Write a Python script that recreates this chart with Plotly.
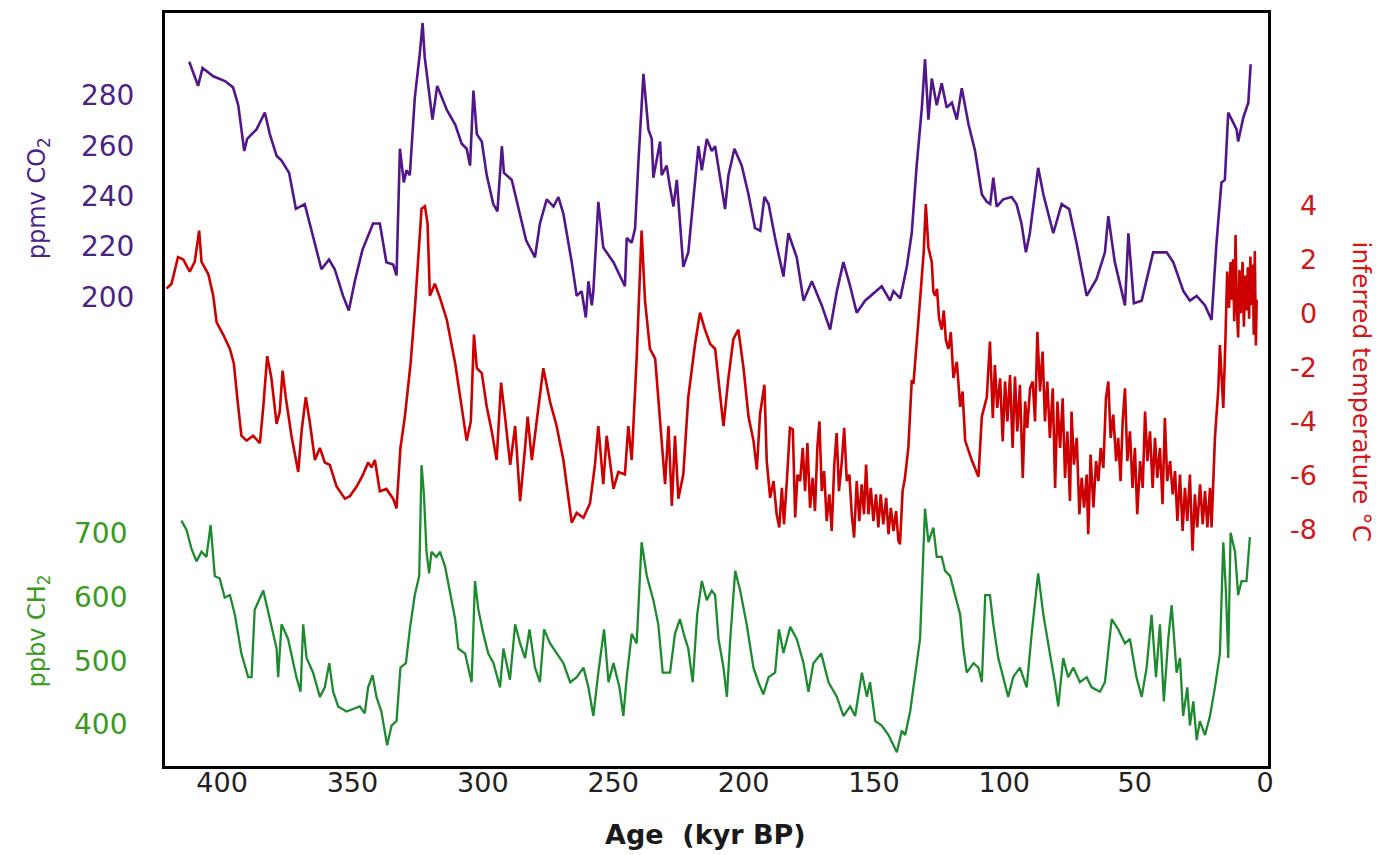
import plotly.graph_objects as go

# ---------------- data ----------------
# CO2 (ppmv) vs age (kyr BP)
co2_age = [
    412.6, 409.2, 407.5, 403.4, 398.9, 395.8, 393.8, 391.5, 390.4, 386.8,
    383.6, 381.7, 379.1, 377.2, 374.3, 371.7, 368.3, 365.1, 361.9, 359.0,
    356.8, 353.6, 351.4, 349.1, 346.2, 342.1, 339.5, 337.0, 334.4, 333.1,
    331.8, 330.3, 329.3, 328.0, 326.1, 324.2, 323.1, 322.3, 320.7, 319.3,
    317.5,
    316.4, 313.8, 310.6, 308.1, 306.2, 304.9, 303.6, 302.3, 300.4, 298.5,
    296.0, 294.4, 292.7, 291.9, 288.9, 285.7, 283.4, 280.0, 278.1, 275.5,
    272.9, 271.0, 269.1, 265.9, 264.0, 262.1, 260.5, 259.5, 258.2, 257.6,
    255.7, 253.8, 249.9, 245.5, 244.8, 242.9, 241.6, 240.3, 238.4, 236.5,
    235.2, 234.6, 233.3, 232.0, 231.4, 229.5, 228.2, 226.9, 225.6, 224.4,
    223.1, 221.2, 219.2, 217.3, 216.0, 214.1, 212.2,
    210.9, 209.0, 207.1, 205.8, 203.5, 200.7, 198.1, 195.6, 193.6, 192.0,
    190.4, 187.9, 184.7, 182.8, 179.6, 177.0, 173.8, 170.0, 166.8, 164.2,
    161.7, 159.1, 156.6, 153.4, 147.0, 143.8, 142.5, 139.9, 137.4, 135.5,
    133.6, 131.6, 130.4, 129.1, 127.8, 125.9, 124.0, 122.1, 120.1, 118.2,
    116.3, 113.7, 111.2, 108.6, 106.7, 105.4,
    104.2, 102.9, 100.4, 97.2, 95.3, 93.4, 91.7, 90.2, 87.0, 85.0,
    81.2, 78.0, 75.1, 72.3, 68.4, 64.6, 61.4, 60.1, 57.6, 53.7,
    52.4, 50.3, 47.3, 42.9, 37.7, 35.2, 31.3, 28.8, 26.2, 23.0,
    20.5, 18.6, 16.7, 15.4, 14.1, 10.9, 10.3, 8.3, 6.4, 5.5,
]
co2_ppmv = [
    293.5, 283.9, 291.0, 287.7, 285.8, 283.3, 276.2, 258.0, 262.8, 266.6,
    273.3, 264.7, 256.1, 254.2, 249.3, 235.0, 236.9, 224.4, 211.0, 214.8,
    211.0, 200.4, 194.6, 206.2, 218.6, 229.2, 229.2, 213.8, 212.9, 208.5,
    258.9, 245.5, 250.3, 248.4, 279.1, 296.4, 308.9, 295.4, 281.0, 270.5,
    283.9,
    281.0, 274.3, 268.5, 260.9, 258.9, 252.2, 282.0, 264.7, 261.8, 248.4,
    236.9, 234.0, 259.9, 249.3, 246.5, 233.0, 222.5, 215.7, 229.2, 238.8,
    235.9, 239.7, 233.0, 213.8, 200.4, 202.3, 191.8, 206.2, 196.6, 202.3,
    237.8, 219.6, 213.8, 204.2, 223.4, 221.5, 227.3, 254.2, 288.7, 266.6,
    262.8, 247.4, 254.2, 261.8, 248.4, 252.2, 243.6, 235.9, 246.5, 229.2,
    211.9, 217.7, 240.7, 259.9, 250.3, 262.8, 258.0,
    259.9, 247.4, 234.9, 248.4, 258.9, 252.2, 240.7, 227.3, 226.3, 239.7,
    236.9, 223.4, 208.1, 225.3, 215.7, 198.5, 206.2, 196.6, 187.0, 202.3,
    213.8, 204.2, 193.7, 198.5, 204.2, 198.5, 202.3, 199.4, 211.9, 225.3,
    252.2, 275.3, 294.5, 270.5, 286.8, 276.2, 284.9, 275.3, 277.2, 270.5,
    283.0, 268.5, 258.0, 240.7, 237.8, 236.9,
    247.4, 235.9, 238.8, 239.7, 236.9, 229.2, 217.7, 225.3, 251.3, 240.7,
    225.3, 236.9, 234.9, 221.5, 200.4, 207.1, 217.7, 232.1, 213.8, 196.6,
    225.3, 197.5, 198.5, 217.7, 217.7, 213.8, 202.3, 198.5, 200.4, 196.6,
    190.8, 221.5, 245.5, 246.5, 273.3, 266.6, 261.8, 271.4, 277.2, 292.5,
]

# Inferred temperature (°C), in four age segments
temp_age_a = [
    421.3, 419.4, 416.9, 414.9, 412.4, 410.5, 408.8, 407.9, 405.3, 403.4,
    402.1, 399.6, 397.0, 395.5, 394.2, 392.6, 390.6, 388.1, 385.5, 384.2,
    382.7, 381.1, 379.1, 377.9, 376.8, 375.6, 373.4, 370.8, 369.5, 367.9,
    366.4, 364.4, 362.5, 360.6, 358.7, 356.1, 352.9, 351.0, 348.4, 345.9,
    344.0, 342.7, 341.4, 339.5, 337.0, 334.4, 333.1, 331.6, 329.9, 327.7,
    326.1, 324.8, 323.5, 322.2, 321.2, 320.3, 318.4,
]
temp_c_a = [
    0.91, 1.09, 2.08, 1.99, 1.54, 1.90, 3.06, 1.90, 1.45, 0.65,
    -0.34, -0.79, -1.32, -1.86, -3.11, -4.54, -4.72, -4.54, -4.81, -3.47,
    -1.59, -2.40, -4.10, -3.65, -2.13, -3.11, -4.54, -5.88, -4.36, -3.11,
    -4.01, -5.44, -4.99, -5.53, -5.62, -6.42, -6.87, -6.78, -6.42, -5.97,
    -5.53, -5.71, -5.44, -6.60, -6.51, -6.87, -7.23, -4.99, -3.83, -1.86,
    0.11, 1.90, 3.87, 3.96, 3.33, 0.65, 1.09,
]
temp_age_b = [
    316.4, 313.8, 310.6, 308.1, 306.2, 304.6, 303.4, 302.3, 300.4, 298.5,
    296.6, 294.7, 293.0, 291.5, 289.5, 287.6, 285.7, 283.8, 282.8, 281.2,
    279.1, 276.8, 274.2, 271.7, 269.1, 265.9, 264.0, 261.4, 258.9, 257.0,
    255.7, 253.8, 252.5, 249.9, 248.0, 245.5, 244.2, 242.9, 241.0, 239.1,
    237.8, 235.9, 233.9, 232.0, 230.1, 228.8, 227.5, 226.3, 225.0, 223.1,
    221.2, 218.6, 216.7, 214.8, 212.8,
]
temp_c_b = [
    0.56, -0.25, -1.86, -3.47, -4.72, -4.01, -0.79, -2.04, -2.22, -3.47,
    -4.36, -5.44, -2.57, -3.83, -5.62, -4.18, -6.96, -4.99, -3.83, -5.44,
    -3.83, -2.04, -3.29, -4.18, -5.44, -7.76, -7.40, -7.58, -7.05, -5.62,
    -4.18, -6.33, -4.54, -6.51, -5.88, -5.97, -4.18, -5.44, -1.68, 3.06,
    0.47, -1.32, -1.68, -4.01, -6.33, -4.18, -7.14, -4.54, -6.87, -5.97,
    -3.11, -1.14, 0.02, -0.61, -1.14,
]
temp_age_c = [
    210.9, 209.0, 207.7, 205.8, 203.9, 202.0, 200.0, 198.1, 196.2, 194.9,
    193.7, 192.0, 191.1, 189.8, 188.5, 187.3, 186.3, 185.3, 184.5, 183.4,
    182.2, 181.1, 180.2, 179.3, 178.3, 177.3, 176.4, 175.5, 174.5, 173.5,
    172.6, 171.7, 170.9, 170.0, 169.1, 168.1, 167.1, 166.2, 165.2, 164.3,
    163.4, 162.3, 161.4, 160.4, 159.4, 158.5, 157.6, 156.6, 155.6, 154.7,
    153.8, 153.0, 152.1, 151.2, 150.2, 149.2, 148.3, 147.4, 146.4, 145.3,
    144.4, 143.5, 142.5, 141.5, 140.6, 140.0, 139.0, 138.1, 136.8, 135.5,
    134.8, 132.9, 130.9, 130.1, 129.1, 127.8, 127.2, 126.5, 125.8, 125.0,
    124.0, 123.2, 122.4, 121.4, 120.5, 119.5, 118.2, 116.9, 116.0, 115.0,
    112.5, 109.9, 108.6, 106.7,
]
temp_c_c = [
    -1.32, -3.11, -4.18, -2.40, -0.96, -0.61, -2.04, -3.83, -4.72, -5.79,
    -3.76, -2.65, -5.48, -6.84, -6.22, -7.45, -7.94, -6.47, -7.82, -6.22,
    -4.25, -4.31, -7.57, -5.98, -6.22, -4.99, -6.59, -4.81, -7.21, -6.10,
    -7.33, -4.99, -4.01, -6.59, -5.85, -7.70, -6.71, -8.07, -5.61, -4.44,
    -6.59, -5.48, -4.25, -6.22, -5.98, -7.45, -8.31, -6.22, -7.70, -6.34,
    -7.45, -5.61, -7.45, -6.47, -7.70, -6.71, -7.94, -6.71, -7.82, -6.84,
    -8.19, -7.21, -8.07, -7.33, -8.44, -8.56, -6.59, -6.10, -4.99, -2.53,
    -2.57, -0.25, 2.26, 4.04, 2.43, 1.90, 0.80, 0.65, 0.90, -0.20,
    -0.61, 0.10, -1.00, -1.32, -0.70, -2.40, -1.80, -3.47, -2.90, -4.72,
    -5.44, -6.06, -3.83, -3.11,
]
temp_age_d = [
    105.5, 104.4, 103.6, 102.7, 101.6, 100.6, 99.7, 98.8, 97.8, 96.8,
    95.9, 95.0, 94.0, 92.9, 92.0, 91.2, 90.1, 89.1, 88.2, 87.3,
    86.3, 85.3, 84.4, 83.5, 82.5, 81.4, 80.5, 79.6, 78.6, 77.6,
    76.7, 75.8, 74.8, 74.2, 73.3, 72.2, 71.2, 70.3, 69.4, 68.4,
    67.8, 66.9, 65.8, 64.8, 63.9, 63.0, 62.0, 61.0, 60.1, 59.2,
    58.2, 57.1, 56.3, 55.4, 54.6, 53.7, 52.8, 51.8, 50.8, 49.9,
    49.0, 47.9, 46.9, 46.0, 45.1, 44.1, 43.1, 42.2, 41.3, 40.3,
    39.3, 38.4, 37.5, 36.4, 35.4, 34.5, 33.6, 32.6, 31.6, 30.7,
    29.8, 28.8, 27.8, 26.9, 26.0, 24.9, 23.9, 23.0, 22.1, 21.1,
    20.5, 19.2, 17.9, 17.3, 16.0, 15.2, 14.5,
    13.8, 13.2, 12.8, 12.2, 11.8, 11.3, 10.8, 10.3, 9.8, 9.3,
    8.6, 8.1, 7.6, 7.1, 6.6, 6.1, 5.6, 5.2, 4.7, 4.3,
    3.9, 3.5, 3.2,
]
temp_c_d = [
    -1.05, -3.88, -1.92, -3.51, -2.41, -4.75, -2.53, -4.01, -2.29, -4.99,
    -2.35, -4.38, -2.65, -6.10, -3.27, -4.25, -2.78, -2.53, -4.01, -0.69,
    -2.90, -1.42, -4.01, -2.53, -4.62, -2.78, -6.47, -3.27, -4.99, -3.15,
    -6.10, -4.38, -6.96, -3.64, -5.61, -4.62, -7.45, -6.10, -7.20, -5.98,
    -8.19, -5.24, -7.20, -5.48, -6.22, -4.99, -5.73, -3.15, -2.53, -4.62,
    -3.76, -5.48, -4.62, -6.22, -4.01, -2.78, -5.48, -4.38, -6.47, -4.99,
    -7.45, -5.48, -6.47, -3.64, -5.48, -4.38, -6.47, -4.62, -6.10, -4.99,
    -7.08, -3.88, -6.22, -5.48, -6.71, -5.85, -7.70, -5.98, -8.07, -6.47,
    -7.70, -5.98, -8.80, -6.71, -7.94, -6.34, -7.82, -6.59, -7.94, -6.47,
    -7.94, -4.62, -2.78, -1.18, -3.51, -1.05, 1.54,
    0.20, 1.90, 0.50, 2.00, -0.30, 2.90, 0.20, -0.90, 1.60, 0.00,
    1.90, -0.50, 1.40, 0.10, 1.70, -0.20, 2.10, 0.30, 1.80, -0.80,
    2.30, -1.20, 0.50,
]

# CH4 (ppbv) vs age (kyr BP)
ch4_age = [
    415.6, 413.6, 411.7, 409.8, 407.9, 406.0, 404.4, 402.8, 400.9, 399.0,
    397.0, 395.1, 392.6, 390.0, 388.7, 387.5, 384.2, 381.7, 379.1, 378.5,
    377.2, 374.7, 373.4, 371.5, 369.9, 368.9, 367.6, 365.1, 362.5, 360.6,
    358.9, 357.4, 355.5, 352.3, 349.7, 347.2, 345.3, 344.0, 342.3, 340.8,
    338.9, 336.7, 335.0, 333.1, 331.6, 329.5, 328.0, 326.1, 324.4, 323.5,
    322.6, 321.6, 320.6, 319.7, 317.8,
    316.4, 314.5, 312.6, 310.6, 309.4, 306.8, 304.3, 303.0, 301.7, 299.8,
    297.9, 295.9, 293.4, 292.1, 289.6, 287.6, 285.7, 283.8, 282.1, 280.0,
    278.1, 276.5, 274.2, 271.7, 269.1, 266.5, 264.0, 261.4, 259.5, 257.6,
    255.7, 253.5, 251.8, 249.9, 247.6, 246.1, 244.8, 242.9, 241.0, 239.1,
    237.1, 234.6, 232.7, 231.0, 228.2, 226.3, 224.4, 222.4, 221.2, 219.5,
    217.8, 216.0, 214.1, 212.2,
    210.9, 209.6, 207.7, 206.4, 205.1, 203.2, 201.3, 198.8, 196.2, 194.3,
    192.4, 190.4, 187.9, 186.4, 184.7, 182.1, 179.6, 177.0, 175.1, 173.2,
    170.2, 167.4, 164.2, 161.7, 159.1, 157.2, 154.6, 152.7, 151.5, 149.5,
    147.0, 144.4, 141.2, 139.3, 138.0, 136.1, 134.2, 132.3, 130.4, 129.1,
    127.2, 125.9, 124.0, 122.7, 120.8, 118.9, 116.9, 115.7, 114.4, 111.8,
    109.9, 108.6, 107.3,
    105.5, 104.2, 102.3, 100.4, 98.5, 96.6, 94.0, 91.4, 89.5, 87.0,
    85.0, 82.5, 80.6, 79.3, 77.4, 75.5, 73.5, 71.0, 68.4, 66.5,
    63.3, 61.4, 58.8, 56.3, 53.7, 51.8, 49.3, 47.3, 45.4, 43.5,
    41.8, 40.3, 38.8, 37.1, 35.8, 33.9, 32.6, 31.4, 29.8, 28.8,
    27.5, 26.2, 25.0, 23.0, 21.1, 19.2, 17.3, 16.0, 15.0, 14.1,
    13.2, 11.5, 10.3, 9.0, 7.1, 5.8,
]
ch4_ppbv = [
    721, 706, 676, 657, 672, 664, 714, 634, 630, 600,
    604, 573, 512, 475, 475, 581, 611, 566, 520, 475,
    558, 535, 512, 475, 452, 558, 505, 482, 444, 459,
    497, 452, 429, 421, 425, 429, 418, 459, 478, 444,
    421, 368, 399, 406, 490, 497, 550, 604, 634, 808,
    763, 672, 638, 672, 664,
    672, 649, 611, 566, 520, 512, 467, 626, 581, 543,
    512, 497, 459, 520, 471, 558, 528, 505, 550, 490,
    467, 550, 528, 512, 497, 467, 475, 490, 459, 414,
    482, 550, 467, 497, 459, 414, 475, 543, 528, 687,
    634, 596, 558, 482, 482, 543, 566, 535, 520, 467,
    573, 626, 596, 611,
    604, 535, 490, 444, 535, 642, 611, 558, 490, 467,
    448, 475, 482, 550, 513, 554, 535, 497, 452, 497,
    512, 467, 444, 414, 429, 414, 482, 444, 467, 406,
    399, 384, 357, 391, 384, 421, 475, 535, 740, 687,
    710, 664, 664, 642, 634, 604, 573, 520, 482, 497,
    490, 467, 604,
    604, 558, 505, 475, 444, 475, 490, 459, 543, 638,
    573, 512, 467, 429, 505, 475, 490, 467, 475, 459,
    452, 467, 566, 550, 528, 535, 475, 444, 490, 573,
    475, 558, 437, 535, 588, 482, 505, 414, 459, 399,
    437, 376, 406, 384, 414, 459, 512, 687, 611, 505,
    702, 672, 604, 626, 626, 695,
]

x_ticks = [400, 350, 300, 250, 200, 150, 100, 50, 0]
co2_ticks = [200, 220, 240, 260, 280]
temp_ticks = [4, 2, 0, -2, -4, -6, -8]
ch4_ticks = [400, 500, 600, 700]

temp_age = temp_age_a + temp_age_b + temp_age_c + temp_age_d
temp_c = temp_c_a + temp_c_b + temp_c_c + temp_c_d

assert len(co2_age) == len(co2_ppmv)
assert len(temp_age_a) == len(temp_c_a)
assert len(temp_age_b) == len(temp_c_b)
assert len(temp_age_c) == len(temp_c_c)
assert len(temp_age_d) == len(temp_c_d)
assert len(ch4_age) == len(ch4_ppbv)

# ---------------- styling ----------------
PURPLE = "#52168a"
PURPLE_TXT = "#4b2385"
RED = "#cc0000"
RED_TXT = "#d01818"
GREEN = "#1d8a30"
GREEN_TXT = "#3a9a1e"
FONT = "DejaVu Sans"

# the page body has an 8px margin; figure sized so that it fits the window
OFF = 8
W, H = 1378, 847
L, R, T, B = 157, 118, 2, 89
PW, PH = W - L - R, H - T - B


def px_x(px):
    """page pixel x -> paper coordinate"""
    return (px - OFF - L) / PW


def px_y(py):
    """page pixel y -> paper coordinate"""
    return (H - B - (py - OFF)) / PH


fig = go.Figure()
fig.add_trace(go.Scatter(x=co2_age, y=co2_ppmv, mode="lines",
                         line=dict(color=PURPLE, width=2.6), yaxis="y",
                         hoverinfo="skip"))
fig.add_trace(go.Scatter(x=temp_age, y=temp_c, mode="lines",
                         line=dict(color=RED, width=2.6), yaxis="y2",
                         hoverinfo="skip"))
fig.add_trace(go.Scatter(x=ch4_age, y=ch4_ppbv, mode="lines",
                         line=dict(color=GREEN, width=2.3), yaxis="y3",
                         hoverinfo="skip"))

annotations = []
for v in temp_ticks:
    annotations.append(dict(
        text=str(v), xref="paper", yref="y2", x=px_x(1319), y=v,
        xanchor="right", yanchor="middle", showarrow=False,
        font=dict(family=FONT, size=27, color=RED_TXT)))
for v in ch4_ticks:
    annotations.append(dict(
        text=str(v), xref="paper", yref="y3", x=px_x(129), y=v,
        xanchor="right", yanchor="middle", showarrow=False,
        font=dict(family=FONT, size=28, color=GREEN_TXT)))

annotations += [
    dict(text="ppmv CO<sub>2</sub>", xref="paper", yref="paper",
         x=px_x(38), y=px_y(196), textangle=-90, showarrow=False,
         xanchor="center", yanchor="middle",
         font=dict(family=FONT, size=24, color=PURPLE_TXT)),
    dict(text="ppbv CH<sub>2</sub>", xref="paper", yref="paper",
         x=px_x(39), y=px_y(630), textangle=-90, showarrow=False,
         xanchor="center", yanchor="middle",
         font=dict(family=FONT, size=24, color=GREEN_TXT)),
    dict(text="inferred temperature °C", xref="paper", yref="paper",
         x=px_x(1362), y=px_y(390), textangle=90, showarrow=False,
         xanchor="center", yanchor="middle",
         font=dict(family=FONT, size=25, color=RED_TXT)),
    dict(text="<b>Age\u00a0 (kyr BP)</b>", xref="paper", yref="paper",
         x=px_x(705), y=px_y(835), showarrow=False,
         xanchor="center", yanchor="middle",
         font=dict(family=FONT, size=27, color="#1a1a1a")),
]

fig.update_layout(
    width=W, height=H,
    margin=dict(l=L, r=R, t=T, b=B, pad=0),
    paper_bgcolor="white", plot_bgcolor="white",
    showlegend=False,
    xaxis=dict(range=[421.9, -1.15], tickvals=x_ticks,
               ticktext=[str(v) for v in x_ticks],
               showline=True, mirror=True, linecolor="black", linewidth=3,
               showgrid=False, zeroline=False, ticks="", ticklen=0,
               ticklabelstandoff=-9,
               tickfont=dict(family=FONT, size=27, color="#222222")),
    yaxis=dict(range=[13.47, 312.87], tickvals=co2_ticks,
               ticktext=[str(v) for v in co2_ticks],
               showline=True, mirror=True, linecolor="black", linewidth=3,
               showgrid=False, zeroline=False, ticks="", ticklen=0,
               ticklabelstandoff=22,
               tickfont=dict(family=FONT, size=28, color=PURPLE_TXT)),
    yaxis2=dict(range=[-16.775, 11.122], overlaying="y", side="right",
                showticklabels=False, showgrid=False, zeroline=False,
                showline=False, ticks=""),
    yaxis3=dict(range=[335.4, 1518.5], overlaying="y", side="left",
                showticklabels=False, showgrid=False, zeroline=False,
                showline=False, ticks=""),
    annotations=annotations,
)

fig.write_html("out.html")
